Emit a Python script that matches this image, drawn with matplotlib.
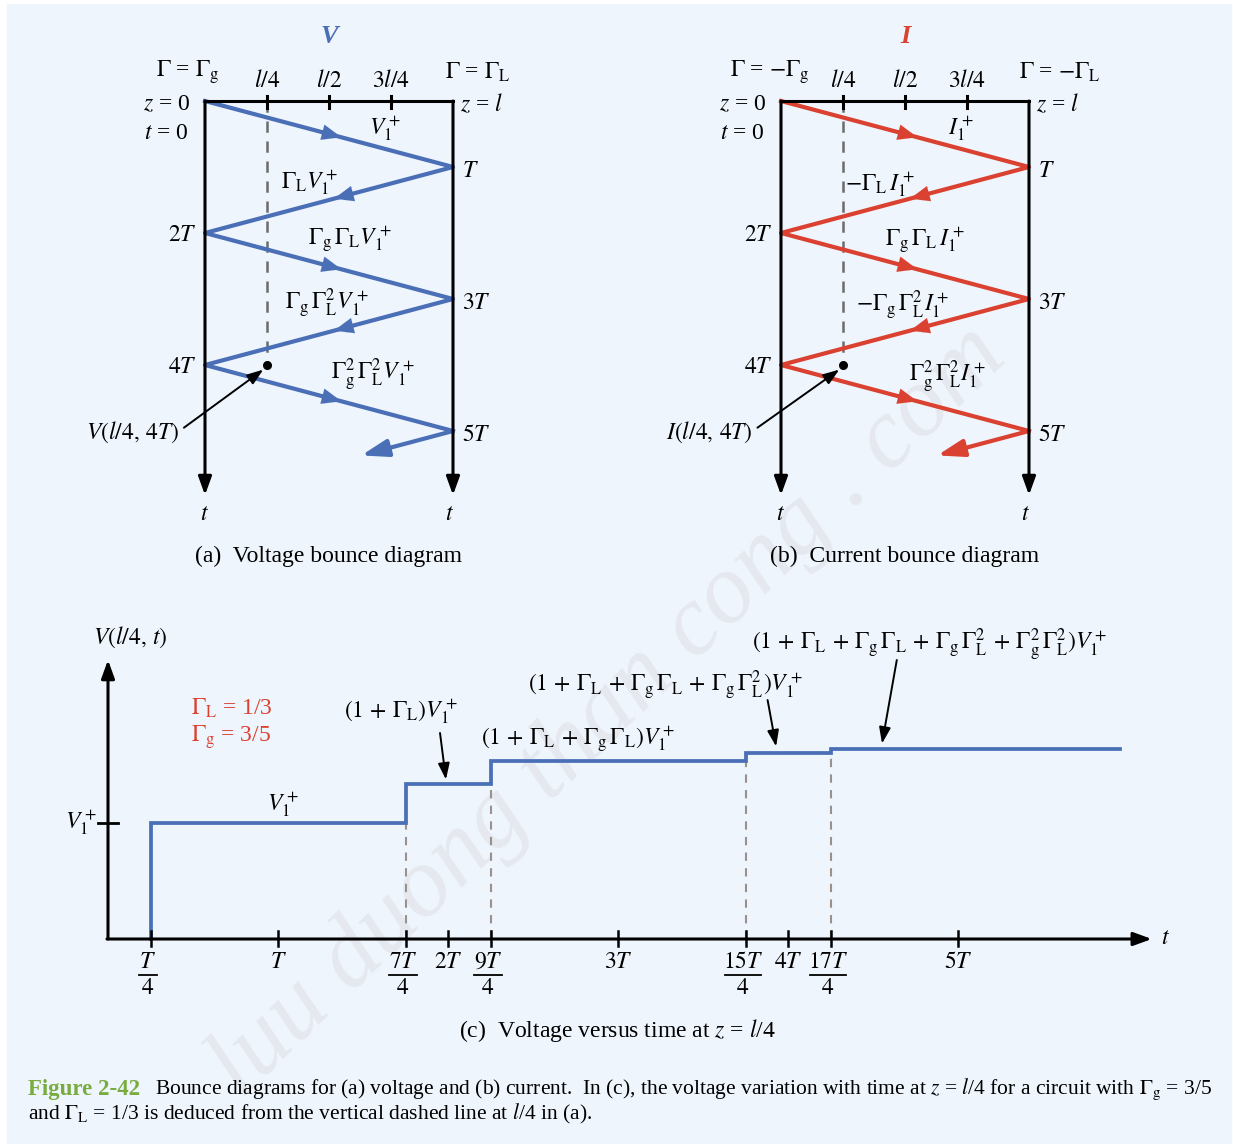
import matplotlib
matplotlib.use('Agg')
import matplotlib.pyplot as plt
from matplotlib.patches import Rectangle

plt.rcParams['font.family'] = ['Liberation Serif', 'DejaVu Serif']
plt.rcParams['mathtext.fontset'] = 'stix'

W, H = 1233, 1144
FS = 17

BG = '#eff5fd'
BLUE = '#4a6fb6'
RED = '#da4130'
GREEN = '#78ac3e'
DASH_AB = '#6b6b6b'
DASH_C = '#9b918c'

# ---------------- data ----------------
# bounce diagrams: wave arrives alternately at z=0 and z=l every T
bounce_t = [0, 1, 2, 3, 4, 5]          # units of T
bounce_z = [0, 1, 0, 1, 0, 1]          # units of l
last_fraction = 0.37                    # part of the 6th trip that is drawn
probe_z = 0.25                          # dashed line at l/4
probe_t = 4                             # observed point at 4T
z_ticks = [0.25, 0.5, 0.75]
z_tick_labels = [r'$l/4$', r'$l/2$', r'$3l/4$']
left_times = [2, 4]
left_time_labels = [r'$2T$', r'$4T$']
right_times = [1, 3, 5]
right_time_labels = [r'$T$', r'$3T$', r'$5T$']

v_wave_labels = [r'$V_1^+$', r'$\Gamma_{\rm L}V_1^+$', r'$\Gamma_{\rm g}\,\Gamma_{\rm L}V_1^+$',
                 r'$\Gamma_{\rm g}\,\Gamma_{\rm L}^2V_1^+$', r'$\Gamma_{\rm g}^2\,\Gamma_{\rm L}^2V_1^+$']
i_wave_labels = [r'$I_1^+$', r'$-\Gamma_{\rm L}\,I_1^+$', r'$\Gamma_{\rm g}\,\Gamma_{\rm L}\,I_1^+$',
                 r'$-\Gamma_{\rm g}\,\Gamma_{\rm L}^2I_1^+$', r'$\Gamma_{\rm g}^2\,\Gamma_{\rm L}^2I_1^+$']

# panel (c): voltage at z = l/4
step_t = [0.25, 1.75, 2.25, 3.75, 4.25]       # units of T
step_v = [1.0, 1.333, 1.533, 1.6, 1.64]       # units of V1+
t_stop = 5.95
t_ticks = [0.25, 1, 1.75, 2, 2.25, 3, 3.75, 4, 4.25, 5]
t_tick_num = ['T', 'T', '7T', '2T', '9T', '3T', '15T', '4T', '17T', '5T']
t_tick_den = ['4', '', '4', '', '4', '', '4', '', '4', '']
P = r'\,+\,'
level_labels = [r'$V_1^+$', r'$(1' + P + r'\Gamma_{\rm L})V_1^+$',
                r'$(1' + P + r'\Gamma_{\rm L}' + P + r'\Gamma_{\rm g}\,\Gamma_{\rm L})V_1^+$',
                r'$(1' + P + r'\Gamma_{\rm L}' + P + r'\Gamma_{\rm g}\,\Gamma_{\rm L}' + P
                + r'\Gamma_{\rm g}\,\Gamma_{\rm L}^2)V_1^+$',
                r'$(1' + P + r'\Gamma_{\rm L}' + P + r'\Gamma_{\rm g}\,\Gamma_{\rm L}' + P
                + r'\Gamma_{\rm g}\,\Gamma_{\rm L}^2' + P + r'\Gamma_{\rm g}^2\,\Gamma_{\rm L}^2)V_1^+$']

fig = plt.figure(figsize=(W / 100, H / 100), dpi=100)
fig.patch.set_facecolor('white')

# background panel + watermark
bg = fig.add_axes([0, 0, 1, 1])
bg.set_xlim(0, W)
bg.set_ylim(H, 0)
bg.axis('off')
bg.add_patch(Rectangle((7, 4), 1224, 1140, color=BG, zorder=0))
bg.text(608, 712, 'luu duong than cong . com', rotation=44, fontsize=72, style='italic',
        color='#e5e9ef', ha='center', va='center', zorder=1)


def make_ax(x0, sx, y0, sy, xlim, ylim):
    pxs = sorted([x0 + sx * v for v in xlim])
    pys = sorted([y0 + sy * v for v in ylim])
    ax = fig.add_axes([pxs[0] / W, 1 - pys[1] / H, (pxs[1] - pxs[0]) / W, (pys[1] - pys[0]) / H])
    ax.set_xlim(*xlim)
    if sy > 0:
        ax.set_ylim(max(ylim), min(ylim))
    else:
        ax.set_ylim(min(ylim), max(ylim))
    ax.axis('off')
    return ax


def arrow(ax, xy, xytext, color='k', lw=1.5, hl=0.6, hw=0.2, ms=20, z=4):
    ax.annotate('', xy=xy, xytext=xytext,
                arrowprops=dict(arrowstyle='-|>,head_length=%g,head_width=%g' % (hl, hw),
                                color=color, lw=lw, mutation_scale=ms, shrinkA=0, shrinkB=0),
                zorder=z)


def draw_bounce(x0, color, title, gl, gr, wave_labels, wave_pos, probe_label, probe_lx, caption):
    ax = make_ax(x0, 248, 101, 66, (-0.6, 1.45), (-1.3, 7.2))
    k = 'black'
    t_end_axis = 5.97
    ax.plot([0, 1], [0, 0], color=k, lw=2.2, solid_capstyle='projecting', zorder=4)
    for z in (0, 1):
        arrow(ax, (z, t_end_axis), (z, 0), color=k, lw=2.2, hl=0.55, hw=0.2, ms=20)
    ax.text(0, 6.27, r'$t$', fontsize=FS, ha='center', va='center')
    ax.text(0.985, 6.27, r'$t$', fontsize=FS, ha='center', va='center')
    for zt, lab in zip(z_ticks, z_tick_labels):
        ax.plot([zt, zt], [-0.08, 0.1], color=k, lw=2.2, zorder=4)
        ax.text(zt, -0.3, lab, fontsize=FS, ha='center', va='center')
    ax.plot([probe_z, probe_z], [0, probe_t], color=DASH_AB, lw=1.8, dashes=(4.5, 3.5), zorder=1)
    ax.plot(probe_z, probe_t, 'o', color=k, ms=5.5, zorder=5)
    # zigzag
    ax.plot(bounce_z, bounce_t, color=color, lw=3, zorder=3, solid_joinstyle='round')
    z_last = bounce_z[-1] + last_fraction * ((1 - bounce_z[-1]) - bounce_z[-1])
    t_last = bounce_t[-1] + last_fraction
    arrow(ax, (z_last, t_last), (bounce_z[-1], bounce_t[-1]), color=color, lw=3, hl=0.8, hw=0.26, ms=20, z=3)
    for i in range(len(bounce_t) - 1):
        za, ta, zb, tb = bounce_z[i], bounce_t[i], bounce_z[i + 1], bounce_t[i + 1]
        f = 0.55 if zb > za else 0.48
        tip = (za + f * (zb - za), ta + f * (tb - ta))
        tail = (za + (f - 0.1) * (zb - za), ta + (f - 0.1) * (tb - ta))
        arrow(ax, tip, tail, color=color, lw=0.1, hl=0.7, hw=0.28, ms=20, z=3)
    for lab, (zx, ty) in zip(wave_labels, wave_pos):
        ax.text(zx, ty, lab, fontsize=FS, ha='center', va='center', zorder=6)
    for tt, lab in zip(left_times, left_time_labels):
        ax.text(-0.035, tt + 0.04, lab, fontsize=FS, ha='right', va='center')
    for tt, lab in zip(right_times, right_time_labels):
        ax.text(1.035, tt + 0.07, lab, fontsize=FS, ha='left', va='center')
    ax.text(-0.06, 0.05, r'$z$ = 0', fontsize=FS, ha='right', va='center')
    ax.text(-0.065, 0.49, r'$t$ = 0', fontsize=FS, ha='right', va='center')
    ax.text(1.03, 0.05, r'$z$ = $l$', fontsize=FS, ha='left', va='center')
    ax.text(gl[1], -0.44, gl[0], fontsize=FS, ha='center', va='center')
    ax.text(gr[1], -0.44, gr[0], fontsize=FS, ha='center', va='center')
    ax.text(0.5, -0.97, title, fontsize=FS + 2, ha='center', va='center', color=color,
            fontweight='bold', style='italic')
    ax.text(probe_lx, 5.02, probe_label, fontsize=FS, ha='right', va='center')
    arrow(ax, (probe_z - 0.015, probe_t + 0.07), (probe_lx + 0.02, 4.95), color=k, lw=1.4,
          hl=0.7, hw=0.25, ms=14)
    ax.text(0.5, 6.9, caption, fontsize=FS, ha='center', va='center')
    return ax


draw_bounce(205, BLUE, 'V', (r'$\Gamma$ = $\Gamma_{\rm g}$', -0.07), (r'$\Gamma$ = $\Gamma_{\rm L}$', 1.10),
            v_wave_labels, [(0.726, 0.41), (0.423, 1.24), (0.585, 2.11), (0.49, 3.06), (0.677, 4.15)],
            r'$V(l/4,\,4T)$', -0.105, '(a)  Voltage bounce diagram')
draw_bounce(781, RED, 'I', (r'$\Gamma$ = $-\Gamma_{\rm g}$', -0.044), (r'$\Gamma$ = $-\Gamma_{\rm L}$', 1.125),
            i_wave_labels, [(0.726, 0.41), (0.40, 1.27), (0.58, 2.12), (0.49, 3.09), (0.673, 4.18)],
            r'$I(l/4,\,4T)$', -0.115, '(b)  Current bounce diagram')

# ---------------- panel (c) ----------------
axc = make_ax(108, 170, 939, -116, (-0.5, 6.4), (-0.95, 2.75))
arrow(axc, (6.14, 0), (-0.006, 0), lw=2.2, hl=0.55, hw=0.2, ms=20)
arrow(axc, (0, 2.405), (0, 0), lw=2.2, hl=0.55, hw=0.2, ms=20)
axc.text(6.22, 0.0, r'$t$', fontsize=FS, ha='center', va='center')
axc.text(0.13, 2.6, r'$V(l/4,\,t)$', fontsize=FS, ha='center', va='center')
axc.plot([-0.059, 0.059], [1, 1], color='k', lw=2.0)
axc.text(-0.065, 1.0, r'$V_1^+$', fontsize=FS, ha='right', va='center')
axc.text(0.49, 1.99, r'$\Gamma_{\rm L}$ = 1/3', fontsize=FS, ha='left', va='center', color=RED)
axc.text(0.49, 1.74, r'$\Gamma_{\rm g}$ = 3/5', fontsize=FS, ha='left', va='center', color=RED)

xs = [step_t[0]]
ys = [0]
for i, (t0, v0) in enumerate(zip(step_t, step_v)):
    xs.append(t0)
    ys.append(v0)
    nxt = step_t[i + 1] if i + 1 < len(step_t) else t_stop
    xs.append(nxt)
    ys.append(v0)
axc.plot(xs, ys, color=BLUE, lw=2.7, zorder=3, solid_joinstyle='miter')
for i in range(1, len(step_t)):
    axc.plot([step_t[i], step_t[i]], [0, step_v[i - 1]], color=DASH_C, lw=1.5, dashes=(4, 3.5), zorder=2)

for tt, num, den in zip(t_ticks, t_tick_num, t_tick_den):
    axc.plot([tt, tt], [-0.06, 0.069], color='k', lw=1.8, zorder=4)
    if den:
        axc.text(tt - 0.015, -0.2, '$%s$' % num, fontsize=FS, ha='center', va='center')
        hw = 0.03 + 0.025 * len(num)
        axc.plot([tt - 0.015 - hw, tt - 0.015 + hw], [-0.31, -0.31], color='k', lw=1.3)
        axc.text(tt - 0.015, -0.425, '$%s$' % den, fontsize=FS, ha='center', va='center')
    else:
        axc.text(tt, -0.2, '$%s$' % num, fontsize=FS, ha='center', va='center')

label_pos = [(1.03, 1.155), (1.72, 1.96), (2.765, 1.716), (3.276, 2.19), (4.835, 2.534)]
for lab, (tx, vy) in zip(level_labels, label_pos):
    axc.text(tx, vy, lab, fontsize=FS, ha='center', va='center')
arrow(axc, (1.988, 1.375), (1.953, 1.776), lw=1.4, hl=0.7, hw=0.25, ms=14)
arrow(axc, (3.93, 1.66), (3.88, 2.06), lw=1.4, hl=0.7, hw=0.25, ms=14)
arrow(axc, (4.553, 1.685), (4.64, 2.405), lw=1.4, hl=0.7, hw=0.25, ms=14)
axc.text(2.994, -0.785, r'(c)  Voltage versus time at $z$ = $l$/4', fontsize=FS, ha='center', va='center')

# ---------------- figure caption ----------------
fig.text(28 / W, 1 - 1089 / H, 'Figure 2-42', color=GREEN, fontweight='bold', fontsize=16.5, va='center')
fig.text(155 / W, 1 - 1089 / H,
         r'Bounce diagrams for (a) voltage and (b) current.  In (c), the voltage variation with time at '
         r'$z$ = $l$/4 for a circuit with $\Gamma_{\rm g}$ = 3/5', fontsize=15.5, va='center')
fig.text(28 / W, 1 - 1114 / H,
         r'and $\Gamma_{\rm L}$ = 1/3 is deduced from the vertical dashed line at $l$/4 in (a).',
         fontsize=15.5, va='center')

fig.savefig('out.png', dpi=100, facecolor=fig.get_facecolor())
